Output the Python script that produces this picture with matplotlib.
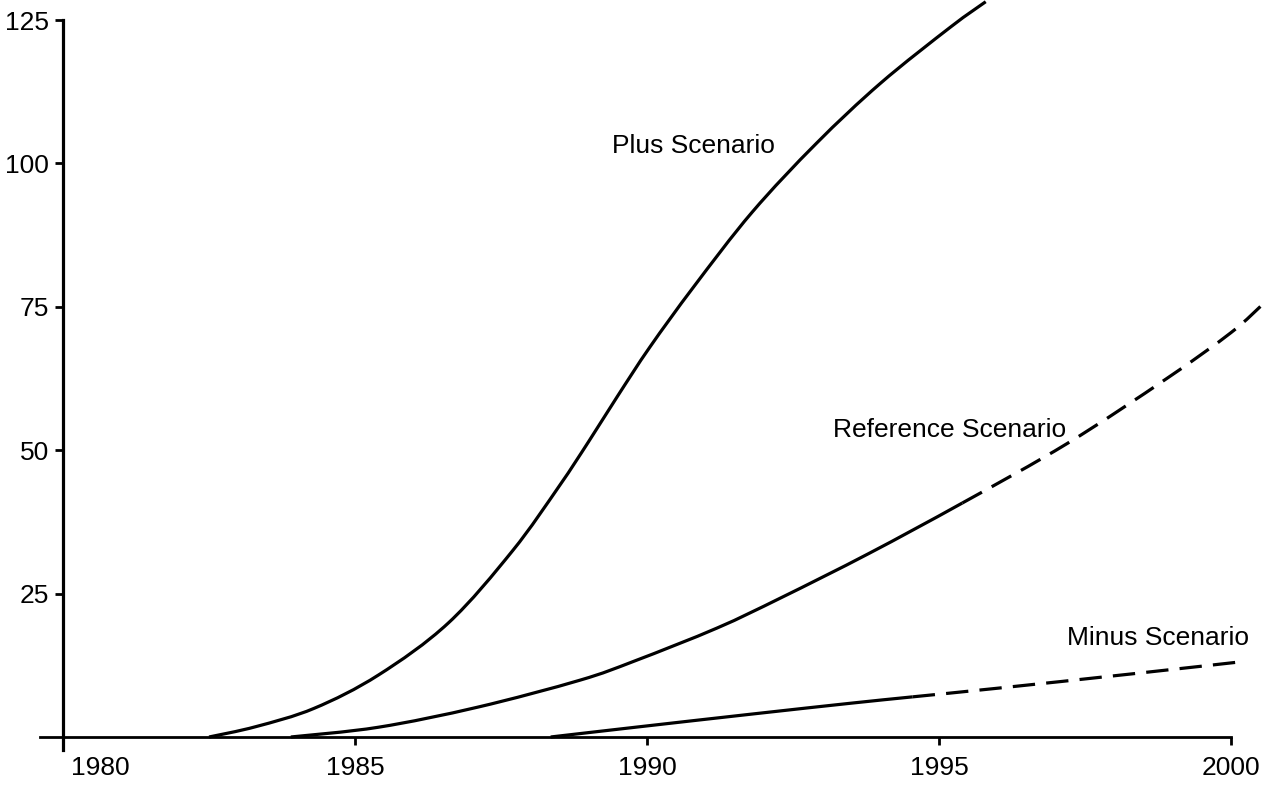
import matplotlib
matplotlib.use("Agg")
import matplotlib.pyplot as plt
from matplotlib.path import Path
from matplotlib.patches import PathPatch
from matplotlib.transforms import ScaledTranslation

plt.rcParams['font.family'] = ['Liberation Sans', 'DejaVu Sans']

# values
plus_years = [1982.5, 1983.3, 1984.3, 1985.4, 1986.6, 1987.7, 1988.5, 1989.0, 1989.5, 1990.05,
              1990.8, 1991.8, 1992.9, 1994.0, 1995.2, 1995.8]
plus_vals = [0, 1.8, 5.0, 10.8, 19.9, 32.5, 43.8, 51.5, 59.5, 68.0,
             78.5, 91.5, 103.5, 114.0, 123.8, 128.2]

ref_years = [1983.9, 1985.4, 1987.1, 1988.85, 1989.8, 1991.2, 1992.3, 1993.8, 1995.4,
             1997.2, 1998.9, 2000.0, 2000.55]
ref_vals = [0, 1.7, 5.2, 9.9, 13.3, 19.0, 24.3, 32.0, 40.8,
            51.2, 62.5, 70.5, 75.5]
ref_dash_from = 1995.4   # dashed from here on

minus_years = [1988.35, 1989.8, 1991.8, 1993.5, 1994.55, 1996.0, 1998.3, 2000.25]
minus_vals = [0, 1.7, 4.0, 5.9, 7.0, 8.5, 11.0, 13.2]
minus_dash_from = 1994.55

x_ticks = [1980, 1985, 1990, 1995, 2000]
y_ticks = [25, 50, 75, 100, 125]

labels = ["Plus Scenario", "Reference Scenario", "Minus Scenario"]
label_pos = [(1989.4, 101.8), (1993.18, 52.3), (1997.19, 16.0)]


def smooth(xs, ys, i0, i1):
    # Catmull-Rom through the read points, as cubic bezier segments i0..i1
    pts = list(zip(xs, ys))
    n = len(pts)
    verts = [pts[i0]]
    codes = [Path.MOVETO]
    for i in range(i0, i1):
        p0 = pts[i - 1] if i > 0 else pts[i]
        p1 = pts[i]
        p2 = pts[i + 1]
        p3 = pts[i + 2] if i + 2 < n else pts[i + 1]
        c1 = (p1[0] + (p2[0] - p0[0]) / 6, p1[1] + (p2[1] - p0[1]) / 6)
        c2 = (p2[0] - (p3[0] - p1[0]) / 6, p2[1] - (p3[1] - p1[1]) / 6)
        verts += [c1, c2, p2]
        codes += [Path.CURVE4] * 3
    return Path(verts, codes)


def draw(ax, xs, ys, dash_from=None):
    k = len(xs) - 1 if dash_from is None else xs.index(dash_from)
    ax.add_patch(PathPatch(smooth(xs, ys, 0, k), fill=False, lw=2.3, color="black"))
    if dash_from is not None:
        ax.add_patch(PathPatch(smooth(xs, ys, k, len(xs) - 1), fill=False, lw=2.3,
                               color="black", linestyle=(0, (7, 3.5))))


fig = plt.figure(figsize=(12.66, 7.87), dpi=100)
ax = fig.add_axes([0, 0, 1, 1])

draw(ax, plus_years, plus_vals)
draw(ax, ref_years, ref_vals, ref_dash_from)
draw(ax, minus_years, minus_vals, minus_dash_from)

for txt, (x, y) in zip(labels, label_pos):
    ax.text(x, y, txt, fontsize=19, ha="left", va="baseline")

ax.set_xlim(1978.92, 2000.6)
ax.set_ylim(-8.72, 128.5)

ax.spines["top"].set_visible(False)
ax.spines["right"].set_visible(False)
ax.spines["left"].set_position(("data", 1980))
ax.spines["bottom"].set_position(("data", 0))
ax.spines["left"].set_bounds(-2.2, 125)
ax.spines["bottom"].set_bounds(1979.6, 2000)
ax.spines["left"].set_linewidth(2.3)
ax.spines["bottom"].set_linewidth(2.0)

ax.set_xticks(x_ticks)
ax.set_xticklabels([str(t) for t in x_ticks])
ax.set_yticks(y_ticks)
ax.set_yticklabels([str(t) for t in y_ticks])
ax.tick_params(axis="x", direction="out", length=6, width=2, pad=8, labelsize=19)
ax.tick_params(axis="y", direction="out", length=6, width=2, pad=4, labelsize=19)
first = ax.get_xticklabels()[0]
first.set_ha("left")
first.set_transform(first.get_transform() + ScaledTranslation(6 / 72, 0, fig.dpi_scale_trans))

fig.savefig("out.png", dpi=100)
